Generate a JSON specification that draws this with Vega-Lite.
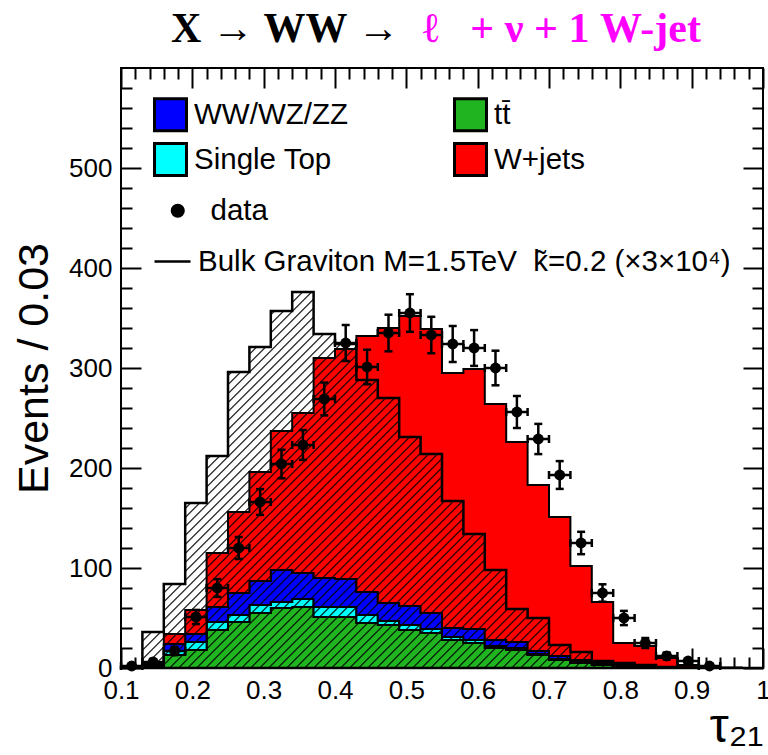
{
"$schema": "https://vega.github.io/schema/vega-lite/v6.json",
"width": 642, "height": 600,
"autosize": {"type": "none"},
"padding": {"left": 121, "top": 68, "right": 5, "bottom": 87},
"background": "white",
"title": {"text": "X → WW →", "subtitle": "\u200d\u00a0\u00a0\u00a0\u00a0\u00a0\u00a0\u00a0\u00a0\u00a0\u00a0\u00a0\u00a0\u00a0\u00a0\u00a0\u00a0\u00a0\u00a0\u00a0\u00a0\u00a0\u00a0\u00a0\u00a0ℓ\u00a0\u00a0\u00a0+ ν + 1 W-jet", "anchor": "start", "frame": "group", "dx": 50, "offset": 16, "font": "Liberation Serif", "fontSize": 42, "fontWeight": "bold", "color": "black", "subtitleFont": "Liberation Serif", "subtitleFontSize": 42, "subtitleFontWeight": "bold", "subtitleColor": "#ff00ff", "subtitlePadding": -42},
"datasets": {
"mc": [
{"e":0.10,"a_tt":0.5,"b_st":0.1,"c_vv":0.2,"d_wj":0.7,"sig":1},
{"e":0.13,"a_tt":2,"b_st":1,"c_vv":1,"d_wj":2,"sig":36},
{"e":0.16,"a_tt":13,"b_st":4,"c_vv":7,"d_wj":10,"sig":84},
{"e":0.19,"a_tt":18,"b_st":8,"c_vv":8,"d_wj":24,"sig":165},
{"e":0.22,"a_tt":38,"b_st":8,"c_vv":15,"d_wj":54,"sig":212},
{"e":0.25,"a_tt":46,"b_st":7,"c_vv":22,"d_wj":81,"sig":296},
{"e":0.28,"a_tt":55,"b_st":8,"c_vv":24,"d_wj":109,"sig":321},
{"e":0.31,"a_tt":60,"b_st":6,"c_vv":32,"d_wj":139,"sig":357},
{"e":0.34,"a_tt":61,"b_st":8,"c_vv":26,"d_wj":160,"sig":376},
{"e":0.37,"a_tt":51,"b_st":10,"c_vv":29,"d_wj":220,"sig":334},
{"e":0.40,"a_tt":51,"b_st":10,"c_vv":28,"d_wj":230,"sig":324},
{"e":0.43,"a_tt":45,"b_st":8,"c_vv":23,"d_wj":256,"sig":288},
{"e":0.46,"a_tt":43,"b_st":4,"c_vv":18,"d_wj":275,"sig":270},
{"e":0.49,"a_tt":38,"b_st":5,"c_vv":19,"d_wj":290,"sig":231},
{"e":0.52,"a_tt":35,"b_st":4,"c_vv":16,"d_wj":284,"sig":214},
{"e":0.55,"a_tt":28,"b_st":3,"c_vv":9,"d_wj":255,"sig":167},
{"e":0.58,"a_tt":25,"b_st":3,"c_vv":11,"d_wj":260,"sig":134},
{"e":0.61,"a_tt":20,"b_st":2,"c_vv":6,"d_wj":236,"sig":98},
{"e":0.64,"a_tt":18,"b_st":2,"c_vv":6,"d_wj":200,"sig":59},
{"e":0.67,"a_tt":13,"b_st":1,"c_vv":3,"d_wj":166,"sig":50},
{"e":0.70,"a_tt":8,"b_st":1,"c_vv":3,"d_wj":139,"sig":23},
{"e":0.73,"a_tt":5,"b_st":1,"c_vv":2,"d_wj":94,"sig":16},
{"e":0.76,"a_tt":3,"b_st":0.5,"c_vv":1.5,"d_wj":61,"sig":7},
{"e":0.79,"a_tt":2,"b_st":0.3,"c_vv":0.7,"d_wj":22,"sig":5},
{"e":0.82,"a_tt":1,"b_st":0.2,"c_vv":0.8,"d_wj":20,"sig":3},
{"e":0.85,"a_tt":0.5,"b_st":0.1,"c_vv":0.4,"d_wj":9,"sig":1},
{"e":0.88,"a_tt":0.3,"b_st":0.1,"c_vv":0.2,"d_wj":2.4,"sig":0.5},
{"e":0.91,"a_tt":0.1,"b_st":0.05,"c_vv":0.05,"d_wj":0.8,"sig":0.2},
{"e":0.94,"a_tt":0,"b_st":0,"c_vv":0,"d_wj":0.4,"sig":0},
{"e":0.97,"a_tt":0,"b_st":0,"c_vv":0,"d_wj":0,"sig":0},
{"e":1.00,"a_tt":0,"b_st":0,"c_vv":0,"d_wj":0,"sig":0}
],
"obs": [
{"xc":0.115,"x0":0.10,"x1":0.13,"n":2,"lo":0.6,"hi":3.4},
{"xc":0.145,"x0":0.13,"x1":0.16,"n":6,"lo":3.6,"hi":8.4},
{"xc":0.175,"x0":0.16,"x1":0.19,"n":17,"lo":12.9,"hi":21.1},
{"xc":0.205,"x0":0.19,"x1":0.22,"n":51,"lo":43.9,"hi":58.1},
{"xc":0.235,"x0":0.22,"x1":0.25,"n":80,"lo":71.1,"hi":88.9},
{"xc":0.265,"x0":0.25,"x1":0.28,"n":120,"lo":109,"hi":131},
{"xc":0.295,"x0":0.28,"x1":0.31,"n":166,"lo":153.1,"hi":178.9},
{"xc":0.325,"x0":0.31,"x1":0.34,"n":204,"lo":189.7,"hi":218.3},
{"xc":0.355,"x0":0.34,"x1":0.37,"n":223,"lo":208.1,"hi":237.9},
{"xc":0.385,"x0":0.37,"x1":0.40,"n":269,"lo":252.6,"hi":285.4},
{"xc":0.415,"x0":0.40,"x1":0.43,"n":325,"lo":307,"hi":343},
{"xc":0.445,"x0":0.43,"x1":0.46,"n":301,"lo":283.7,"hi":318.3},
{"xc":0.475,"x0":0.46,"x1":0.49,"n":335,"lo":316.7,"hi":353.3},
{"xc":0.505,"x0":0.49,"x1":0.52,"n":355,"lo":336.2,"hi":373.8},
{"xc":0.535,"x0":0.52,"x1":0.55,"n":333,"lo":314.8,"hi":351.2},
{"xc":0.565,"x0":0.55,"x1":0.58,"n":324,"lo":306,"hi":342},
{"xc":0.595,"x0":0.58,"x1":0.61,"n":320,"lo":302.1,"hi":337.9},
{"xc":0.625,"x0":0.61,"x1":0.64,"n":300,"lo":282.7,"hi":317.3},
{"xc":0.655,"x0":0.64,"x1":0.67,"n":256,"lo":240,"hi":272},
{"xc":0.685,"x0":0.67,"x1":0.70,"n":229,"lo":213.9,"hi":244.1},
{"xc":0.715,"x0":0.70,"x1":0.73,"n":193,"lo":179.1,"hi":206.9},
{"xc":0.745,"x0":0.73,"x1":0.76,"n":125,"lo":113.8,"hi":136.2},
{"xc":0.775,"x0":0.76,"x1":0.79,"n":75,"lo":66.3,"hi":83.7},
{"xc":0.805,"x0":0.79,"x1":0.82,"n":50,"lo":42.9,"hi":57.1},
{"xc":0.835,"x0":0.82,"x1":0.85,"n":25,"lo":20,"hi":30},
{"xc":0.865,"x0":0.85,"x1":0.88,"n":12,"lo":8.5,"hi":15.5},
{"xc":0.895,"x0":0.88,"x1":0.91,"n":7,"lo":4.4,"hi":9.6},
{"xc":0.925,"x0":0.91,"x1":0.94,"n":2,"lo":0.6,"hi":3.4}
]
},
"layer": [
{
"data": {"name": "mc"},
"transform": [{"fold": ["a_tt","b_st","c_vv","d_wj"], "as": ["key","value"]}],
"mark": {"type": "area", "interpolate": "step-after", "stroke": "black", "strokeWidth": 2, "opacity": 1},
"encoding": {
"x": {"field": "e", "type": "quantitative", "scale": {"domain": [0.1, 1], "nice": false, "zero": false},
 "axis": {"orient": "bottom", "values": [0.1,0.12,0.14,0.16,0.18,0.2,0.22,0.24,0.26,0.28,0.3,0.32,0.34,0.36,0.38,0.4,0.42,0.44,0.46,0.48,0.5,0.52,0.54,0.56,0.58,0.6,0.62,0.64,0.66,0.68,0.7,0.72,0.74,0.76,0.78,0.8,0.82,0.84,0.86,0.88,0.9,0.92,0.94,0.96,0.98,1],
 "tickSize": {"condition": {"test": "abs(datum.value*10-round(datum.value*10))<0.001", "value": -20}, "value": -11},
 "tickWidth": 2, "tickColor": "black",
 "labelExpr": "abs(datum.value*10-round(datum.value*10))<0.001 ? format(datum.value,'.1~f') : ''",
 "labelFont": "Liberation Sans", "labelFontSize": 26, "labelColor": "black", "labelPadding": 29, "labelFlush": false, "labelOverlap": false,
 "domain": false, "grid": false,
 "title": "τ₂₁", "titleFont": "Liberation Sans", "titleFontSize": 48, "titleFontWeight": "normal", "titleColor": "black", "titleAnchor": "end", "titlePadding": -9}},
"y": {"field": "value", "type": "quantitative", "stack": "zero", "scale": {"domain": [0, 600], "nice": false},
 "axis": {"orient": "left", "values": [0,20,40,60,80,100,120,140,160,180,200,220,240,260,280,300,320,340,360,380,400,420,440,460,480,500,520,540,560,580],
 "tickSize": {"condition": {"test": "datum.value % 100 === 0", "value": -20}, "value": -11},
 "tickWidth": 2, "tickColor": "black",
 "labelExpr": "datum.value % 100 === 0 ? datum.label : ''",
 "labelFont": "Liberation Sans", "labelFontSize": 26, "labelColor": "black", "labelPadding": 29, "labelFlush": false, "labelOverlap": false,
 "domain": false, "grid": false,
 "title": "Events / 0.03", "titleFont": "Liberation Sans", "titleFontSize": 43, "titleFontWeight": "normal", "titleColor": "black", "titlePadding": 12}},
"color": {"field": "key", "type": "nominal", "scale": {"domain": ["c_vv","b_st","a_tt","d_wj"], "range": ["#0000ff","#00ffff","#20b420","#ff0000"]},
 "legend": {"orient": "none", "legendX": 32, "legendY": 29, "columns": 2, "columnPadding": 100, "rowPadding": 0, "symbolType": "square", "symbolSize": 1024, "symbolStrokeColor": "black", "symbolStrokeWidth": 3, "symbolOpacity": 1, "labelFont": "Liberation Sans", "labelFontSize": 29.5, "labelColor": "black", "labelOffset": 6, "labelLimit": 500, "title": null, "padding": 0,
 "labelExpr": "datum.value=='c_vv' ? 'WW/WZ/ZZ' : datum.value=='a_tt' ? 'tt̄' : datum.value=='b_st' ? 'Single Top' : 'W+jets'"}},
"order": {"field": "key", "sort": "ascending"}
}
},
{
"data": {"name": "mc"},
"mark": {"type": "area", "interpolate": "step-after", "strokeWidth": 2.5,
 "fill": {"gradient": "linear", "x1": 0, "y1": 0, "x2": 1.0438, "y2": 0.6113, "stops": [
{"offset":0,"color":"transparent"},{"offset":0.0018,"color":"black"},{"offset":0.0036,"color":"transparent"},
{"offset":0.01,"color":"transparent"},{"offset":0.0118,"color":"black"},{"offset":0.0136,"color":"transparent"},
{"offset":0.02,"color":"transparent"},{"offset":0.0218,"color":"black"},{"offset":0.0236,"color":"transparent"},
{"offset":0.03,"color":"transparent"},{"offset":0.0318,"color":"black"},{"offset":0.0336,"color":"transparent"},
{"offset":0.04,"color":"transparent"},{"offset":0.0418,"color":"black"},{"offset":0.0436,"color":"transparent"},
{"offset":0.05,"color":"transparent"},{"offset":0.0518,"color":"black"},{"offset":0.0536,"color":"transparent"},
{"offset":0.06,"color":"transparent"},{"offset":0.0618,"color":"black"},{"offset":0.0636,"color":"transparent"},
{"offset":0.07,"color":"transparent"},{"offset":0.0718,"color":"black"},{"offset":0.0736,"color":"transparent"},
{"offset":0.08,"color":"transparent"},{"offset":0.0818,"color":"black"},{"offset":0.0836,"color":"transparent"},
{"offset":0.09,"color":"transparent"},{"offset":0.0918,"color":"black"},{"offset":0.0936,"color":"transparent"},
{"offset":0.10,"color":"transparent"},{"offset":0.1018,"color":"black"},{"offset":0.1036,"color":"transparent"},
{"offset":0.11,"color":"transparent"},{"offset":0.1118,"color":"black"},{"offset":0.1136,"color":"transparent"},
{"offset":0.12,"color":"transparent"},{"offset":0.1218,"color":"black"},{"offset":0.1236,"color":"transparent"},
{"offset":0.13,"color":"transparent"},{"offset":0.1318,"color":"black"},{"offset":0.1336,"color":"transparent"},
{"offset":0.14,"color":"transparent"},{"offset":0.1418,"color":"black"},{"offset":0.1436,"color":"transparent"},
{"offset":0.15,"color":"transparent"},{"offset":0.1518,"color":"black"},{"offset":0.1536,"color":"transparent"},
{"offset":0.16,"color":"transparent"},{"offset":0.1618,"color":"black"},{"offset":0.1636,"color":"transparent"},
{"offset":0.17,"color":"transparent"},{"offset":0.1718,"color":"black"},{"offset":0.1736,"color":"transparent"},
{"offset":0.18,"color":"transparent"},{"offset":0.1818,"color":"black"},{"offset":0.1836,"color":"transparent"},
{"offset":0.19,"color":"transparent"},{"offset":0.1918,"color":"black"},{"offset":0.1936,"color":"transparent"},
{"offset":0.20,"color":"transparent"},{"offset":0.2018,"color":"black"},{"offset":0.2036,"color":"transparent"},
{"offset":0.21,"color":"transparent"},{"offset":0.2118,"color":"black"},{"offset":0.2136,"color":"transparent"},
{"offset":0.22,"color":"transparent"},{"offset":0.2218,"color":"black"},{"offset":0.2236,"color":"transparent"},
{"offset":0.23,"color":"transparent"},{"offset":0.2318,"color":"black"},{"offset":0.2336,"color":"transparent"},
{"offset":0.24,"color":"transparent"},{"offset":0.2418,"color":"black"},{"offset":0.2436,"color":"transparent"},
{"offset":0.25,"color":"transparent"},{"offset":0.2518,"color":"black"},{"offset":0.2536,"color":"transparent"},
{"offset":0.26,"color":"transparent"},{"offset":0.2618,"color":"black"},{"offset":0.2636,"color":"transparent"},
{"offset":0.27,"color":"transparent"},{"offset":0.2718,"color":"black"},{"offset":0.2736,"color":"transparent"},
{"offset":0.28,"color":"transparent"},{"offset":0.2818,"color":"black"},{"offset":0.2836,"color":"transparent"},
{"offset":0.29,"color":"transparent"},{"offset":0.2918,"color":"black"},{"offset":0.2936,"color":"transparent"},
{"offset":0.30,"color":"transparent"},{"offset":0.3018,"color":"black"},{"offset":0.3036,"color":"transparent"},
{"offset":0.31,"color":"transparent"},{"offset":0.3118,"color":"black"},{"offset":0.3136,"color":"transparent"},
{"offset":0.32,"color":"transparent"},{"offset":0.3218,"color":"black"},{"offset":0.3236,"color":"transparent"},
{"offset":0.33,"color":"transparent"},{"offset":0.3318,"color":"black"},{"offset":0.3336,"color":"transparent"},
{"offset":0.34,"color":"transparent"},{"offset":0.3418,"color":"black"},{"offset":0.3436,"color":"transparent"},
{"offset":0.35,"color":"transparent"},{"offset":0.3518,"color":"black"},{"offset":0.3536,"color":"transparent"},
{"offset":0.36,"color":"transparent"},{"offset":0.3618,"color":"black"},{"offset":0.3636,"color":"transparent"},
{"offset":0.37,"color":"transparent"},{"offset":0.3718,"color":"black"},{"offset":0.3736,"color":"transparent"},
{"offset":0.38,"color":"transparent"},{"offset":0.3818,"color":"black"},{"offset":0.3836,"color":"transparent"},
{"offset":0.39,"color":"transparent"},{"offset":0.3918,"color":"black"},{"offset":0.3936,"color":"transparent"},
{"offset":0.40,"color":"transparent"},{"offset":0.4018,"color":"black"},{"offset":0.4036,"color":"transparent"},
{"offset":0.41,"color":"transparent"},{"offset":0.4118,"color":"black"},{"offset":0.4136,"color":"transparent"},
{"offset":0.42,"color":"transparent"},{"offset":0.4218,"color":"black"},{"offset":0.4236,"color":"transparent"},
{"offset":0.43,"color":"transparent"},{"offset":0.4318,"color":"black"},{"offset":0.4336,"color":"transparent"},
{"offset":0.44,"color":"transparent"},{"offset":0.4418,"color":"black"},{"offset":0.4436,"color":"transparent"},
{"offset":0.45,"color":"transparent"},{"offset":0.4518,"color":"black"},{"offset":0.4536,"color":"transparent"},
{"offset":0.46,"color":"transparent"},{"offset":0.4618,"color":"black"},{"offset":0.4636,"color":"transparent"},
{"offset":0.47,"color":"transparent"},{"offset":0.4718,"color":"black"},{"offset":0.4736,"color":"transparent"},
{"offset":0.48,"color":"transparent"},{"offset":0.4818,"color":"black"},{"offset":0.4836,"color":"transparent"},
{"offset":0.49,"color":"transparent"},{"offset":0.4918,"color":"black"},{"offset":0.4936,"color":"transparent"},
{"offset":0.50,"color":"transparent"},{"offset":0.5018,"color":"black"},{"offset":0.5036,"color":"transparent"},
{"offset":0.51,"color":"transparent"},{"offset":0.5118,"color":"black"},{"offset":0.5136,"color":"transparent"},
{"offset":0.52,"color":"transparent"},{"offset":0.5218,"color":"black"},{"offset":0.5236,"color":"transparent"},
{"offset":0.53,"color":"transparent"},{"offset":0.5318,"color":"black"},{"offset":0.5336,"color":"transparent"},
{"offset":0.54,"color":"transparent"},{"offset":0.5418,"color":"black"},{"offset":0.5436,"color":"transparent"},
{"offset":0.55,"color":"transparent"},{"offset":0.5518,"color":"black"},{"offset":0.5536,"color":"transparent"},
{"offset":0.56,"color":"transparent"},{"offset":0.5618,"color":"black"},{"offset":0.5636,"color":"transparent"},
{"offset":0.57,"color":"transparent"},{"offset":0.5718,"color":"black"},{"offset":0.5736,"color":"transparent"},
{"offset":0.58,"color":"transparent"},{"offset":0.5818,"color":"black"},{"offset":0.5836,"color":"transparent"},
{"offset":0.59,"color":"transparent"},{"offset":0.5918,"color":"black"},{"offset":0.5936,"color":"transparent"},
{"offset":0.60,"color":"transparent"},{"offset":0.6018,"color":"black"},{"offset":0.6036,"color":"transparent"},
{"offset":0.61,"color":"transparent"},{"offset":0.6118,"color":"black"},{"offset":0.6136,"color":"transparent"},
{"offset":0.62,"color":"transparent"},{"offset":0.6218,"color":"black"},{"offset":0.6236,"color":"transparent"},
{"offset":0.63,"color":"transparent"},{"offset":0.6318,"color":"black"},{"offset":0.6336,"color":"transparent"},
{"offset":0.64,"color":"transparent"},{"offset":0.6418,"color":"black"},{"offset":0.6436,"color":"transparent"},
{"offset":0.65,"color":"transparent"},{"offset":0.6518,"color":"black"},{"offset":0.6536,"color":"transparent"},
{"offset":0.66,"color":"transparent"},{"offset":0.6618,"color":"black"},{"offset":0.6636,"color":"transparent"},
{"offset":0.67,"color":"transparent"},{"offset":0.6718,"color":"black"},{"offset":0.6736,"color":"transparent"},
{"offset":0.68,"color":"transparent"},{"offset":0.6818,"color":"black"},{"offset":0.6836,"color":"transparent"},
{"offset":0.69,"color":"transparent"},{"offset":0.6918,"color":"black"},{"offset":0.6936,"color":"transparent"},
{"offset":0.70,"color":"transparent"},{"offset":0.7018,"color":"black"},{"offset":0.7036,"color":"transparent"},
{"offset":0.71,"color":"transparent"},{"offset":0.7118,"color":"black"},{"offset":0.7136,"color":"transparent"},
{"offset":0.72,"color":"transparent"},{"offset":0.7218,"color":"black"},{"offset":0.7236,"color":"transparent"},
{"offset":0.73,"color":"transparent"},{"offset":0.7318,"color":"black"},{"offset":0.7336,"color":"transparent"},
{"offset":0.74,"color":"transparent"},{"offset":0.7418,"color":"black"},{"offset":0.7436,"color":"transparent"},
{"offset":0.75,"color":"transparent"},{"offset":0.7518,"color":"black"},{"offset":0.7536,"color":"transparent"},
{"offset":0.76,"color":"transparent"},{"offset":0.7618,"color":"black"},{"offset":0.7636,"color":"transparent"},
{"offset":0.77,"color":"transparent"},{"offset":0.7718,"color":"black"},{"offset":0.7736,"color":"transparent"},
{"offset":0.78,"color":"transparent"},{"offset":0.7818,"color":"black"},{"offset":0.7836,"color":"transparent"},
{"offset":0.79,"color":"transparent"},{"offset":0.7918,"color":"black"},{"offset":0.7936,"color":"transparent"},
{"offset":0.80,"color":"transparent"},{"offset":0.8018,"color":"black"},{"offset":0.8036,"color":"transparent"},
{"offset":0.81,"color":"transparent"},{"offset":0.8118,"color":"black"},{"offset":0.8136,"color":"transparent"},
{"offset":0.82,"color":"transparent"},{"offset":0.8218,"color":"black"},{"offset":0.8236,"color":"transparent"},
{"offset":0.83,"color":"transparent"},{"offset":0.8318,"color":"black"},{"offset":0.8336,"color":"transparent"},
{"offset":0.84,"color":"transparent"},{"offset":0.8418,"color":"black"},{"offset":0.8436,"color":"transparent"},
{"offset":0.85,"color":"transparent"},{"offset":0.8518,"color":"black"},{"offset":0.8536,"color":"transparent"},
{"offset":0.86,"color":"transparent"},{"offset":0.8618,"color":"black"},{"offset":0.8636,"color":"transparent"},
{"offset":0.87,"color":"transparent"},{"offset":0.8718,"color":"black"},{"offset":0.8736,"color":"transparent"},
{"offset":0.88,"color":"transparent"},{"offset":0.8818,"color":"black"},{"offset":0.8836,"color":"transparent"},
{"offset":0.89,"color":"transparent"},{"offset":0.8918,"color":"black"},{"offset":0.8936,"color":"transparent"},
{"offset":0.90,"color":"transparent"},{"offset":0.9018,"color":"black"},{"offset":0.9036,"color":"transparent"},
{"offset":0.91,"color":"transparent"},{"offset":0.9118,"color":"black"},{"offset":0.9136,"color":"transparent"},
{"offset":0.92,"color":"transparent"},{"offset":0.9218,"color":"black"},{"offset":0.9236,"color":"transparent"},
{"offset":0.93,"color":"transparent"},{"offset":0.9318,"color":"black"},{"offset":0.9336,"color":"transparent"},
{"offset":0.94,"color":"transparent"},{"offset":0.9418,"color":"black"},{"offset":0.9436,"color":"transparent"},
{"offset":0.95,"color":"transparent"},{"offset":0.9518,"color":"black"},{"offset":0.9536,"color":"transparent"},
{"offset":0.96,"color":"transparent"},{"offset":0.9618,"color":"black"},{"offset":0.9636,"color":"transparent"},
{"offset":0.97,"color":"transparent"},{"offset":0.9718,"color":"black"},{"offset":0.9736,"color":"transparent"},
{"offset":0.98,"color":"transparent"},{"offset":0.9818,"color":"black"},{"offset":0.9836,"color":"transparent"},
{"offset":0.99,"color":"transparent"},{"offset":0.9918,"color":"black"},{"offset":0.9936,"color":"transparent"},
{"offset":1,"color":"transparent"}
]}},
"encoding": {
"x": {"field": "e", "type": "quantitative", "scale": {"domain": [0.1, 1], "nice": false, "zero": false},
 "axis": {"orient": "top", "values": [0.1,0.12,0.14,0.16,0.18,0.2,0.22,0.24,0.26,0.28,0.3,0.32,0.34,0.36,0.38,0.4,0.42,0.44,0.46,0.48,0.5,0.52,0.54,0.56,0.58,0.6,0.62,0.64,0.66,0.68,0.7,0.72,0.74,0.76,0.78,0.8,0.82,0.84,0.86,0.88,0.9,0.92,0.94,0.96,0.98,1],
 "tickSize": {"condition": {"test": "abs(datum.value*10-round(datum.value*10))<0.001", "value": -20}, "value": -11},
 "tickWidth": 2, "tickColor": "black", "labels": false, "domain": false, "grid": false, "title": null}},
"y": {"field": "sig", "type": "quantitative", "scale": {"domain": [0, 600], "nice": false},
 "axis": {"orient": "right", "values": [0,20,40,60,80,100,120,140,160,180,200,220,240,260,280,300,320,340,360,380,400,420,440,460,480,500,520,540,560,580],
 "tickSize": {"condition": {"test": "datum.value % 100 === 0", "value": -20}, "value": -11},
 "tickWidth": 2, "tickColor": "black", "labels": false, "domain": false, "grid": false, "title": null}},
"stroke": {"datum": "Bulk Graviton M=1.5TeV\u00a0 k̃=0.2 (×3×10⁴)", "type": "nominal", "scale": {"range": ["black"]},
 "legend": {"orient": "none", "legendX": 32, "legendY": 174, "symbolType": "stroke", "symbolSize": 1296, "symbolStrokeColor": "black", "symbolStrokeWidth": 2.5, "symbolFillColor": "transparent", "symbolOpacity": 1, "labelFont": "Liberation Sans", "labelFontSize": 29.5, "labelColor": "black", "labelOffset": 6, "labelLimit": 1000, "title": null, "padding": 0}}
}
},
{
"data": {"name": "obs"},
"mark": {"type": "errorbar", "color": "black", "ticks": {"size": 8, "thickness": 2.5, "opacity": 1}, "rule": {"strokeWidth": 2.5}},
"encoding": {
"x": {"field": "xc", "type": "quantitative", "scale": {"domain": [0.1, 1], "nice": false, "zero": false}, "axis": null},
"y": {"field": "lo", "type": "quantitative", "scale": {"domain": [0, 600], "nice": false}, "axis": null},
"y2": {"field": "hi"}
}
},
{
"data": {"name": "obs"},
"mark": {"type": "errorbar", "color": "black", "ticks": {"size": 8, "thickness": 2.5, "opacity": 1}, "rule": {"strokeWidth": 2.5}},
"encoding": {
"x": {"field": "x0", "type": "quantitative", "scale": {"domain": [0.1, 1], "nice": false, "zero": false}, "axis": null},
"x2": {"field": "x1"},
"y": {"field": "n", "type": "quantitative", "scale": {"domain": [0, 600], "nice": false}, "axis": null}
}
},
{
"data": {"name": "obs"},
"mark": {"type": "point", "filled": true, "color": "black", "size": 120, "opacity": 1},
"encoding": {
"x": {"field": "xc", "type": "quantitative", "scale": {"domain": [0.1, 1], "nice": false, "zero": false}, "axis": null},
"y": {"field": "n", "type": "quantitative", "scale": {"domain": [0, 600], "nice": false}, "axis": null},
"shape": {"datum": "data", "type": "nominal", "scale": {"domain": ["data"], "range": ["circle"]},
 "legend": {"orient": "none", "legendX": 42, "legendY": 128, "symbolSize": 200, "symbolFillColor": "black", "symbolStrokeColor": "black", "symbolOpacity": 1, "labelFont": "Liberation Sans", "labelFontSize": 29.5, "labelColor": "black", "labelOffset": 18, "labelLimit": 500, "title": null, "padding": 0}}
}
}
],
"resolve": {"axis": {"x": "independent", "y": "independent"}},
"config": {"view": {"stroke": "black", "strokeWidth": 2}, "axis": {"grid": false, "domain": false}}
}
